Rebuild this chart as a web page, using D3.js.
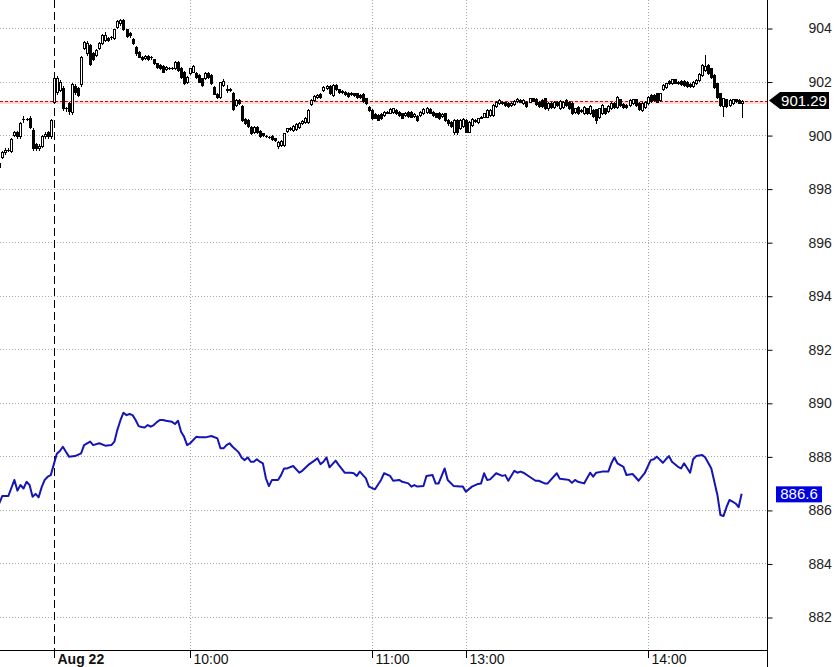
<!DOCTYPE html>
<html><head><meta charset="utf-8">
<script src="https://cdn.jsdelivr.net/npm/d3@7"></script>
<style>
html,body{margin:0;padding:0;background:#fff;}
svg{display:block;font-family:"Liberation Sans",Arial,sans-serif;}
</style></head><body>
<svg id="c" width="836" height="667"></svg>
<script>
// ---- data (1-minute bars; index 18 = Aug 22 09:15) ----
const opens = [
898.95,899.20,899.35,899.45,899.40,900.00,900.10,899.95,900.60,900.60,
900.65,900.20,899.65,899.50,899.60,899.95,900.10,899.95,901.25,901.60,
901.70,901.75,901.00,901.20,900.85,901.85,901.75,901.90,903.25,903.05,
903.35,903.05,902.99,903.24,903.43,903.55,903.62,903.65,903.62,904.05,
904.17,904.30,903.95,903.80,903.58,903.28,903.11,902.93,902.87,902.97,
902.90,902.83,902.68,902.60,902.58,902.45,902.50,902.52,902.50,902.74,
902.50,902.37,901.97,902.31,902.37,902.31,902.24,902.12,902.12,902.33,
902.24,901.80,901.55,901.43,901.87,901.72,901.74,901.58,901.12,901.31,
901.09,900.59,900.56,900.31,900.10,900.30,900.15,900.06,899.96,899.92,
899.96,899.88,899.60,899.63,899.63,900.16,900.22,900.19,900.22,900.29,
900.46,900.50,900.50,901.16,901.31,901.43,901.53,901.68,901.77,901.83,
901.50,901.87,901.71,901.66,901.62,901.58,901.52,901.56,901.56,901.50,
901.53,901.37,901.04,900.94,900.80,900.75,900.80,900.75,900.84,900.84,
900.87,900.94,900.87,900.81,900.75,900.87,900.87,900.72,900.72,900.75,
900.81,900.87,900.97,900.87,900.81,900.83,900.72,900.81,900.56,900.50,
900.10,900.56,900.25,900.35,900.56,900.13,900.38,900.52,900.50,900.65,
900.69,900.69,900.75,900.75,901.09,901.19,901.25,901.22,901.19,901.12,
901.16,901.28,901.31,901.19,901.25,901.25,901.37,901.34,901.25,901.31,
901.37,901.03,901.19,901.06,901.25,901.00,901.06,901.31,901.25,901.19,
900.87,901.06,900.90,900.81,901.00,900.81,900.94,900.96,900.68,900.81,
901.00,900.91,901.00,901.19,901.04,901.33,901.16,901.12,901.12,901.19,
901.33,901.21,900.94,901.06,901.19,901.50,901.50,901.56,901.31,901.71,
901.78,902.03,901.93,902.08,901.99,902.03,902.03,901.99,901.90,901.83,
901.93,902.06,902.24,902.43,902.62,902.49,902.24,901.93,901.56,901.09,
901.33,901.12,901.19,901.33,901.31,901.19];
const highs = [
899.05,899.40,899.50,899.50,899.90,900.15,900.15,900.50,900.70,900.65,
900.70,900.25,899.70,899.65,900.00,900.10,900.15,900.60,902.20,902.20,
902.05,901.85,901.05,901.25,901.95,901.90,901.80,902.95,903.50,903.50,
903.40,903.10,903.22,903.48,903.78,903.85,903.66,903.70,903.98,904.30,
904.32,904.32,903.98,903.84,903.62,903.32,903.15,902.97,903.00,903.00,
902.94,902.86,902.71,902.64,902.62,902.58,902.54,902.56,902.78,902.78,
902.53,902.40,902.21,902.52,902.61,902.34,902.27,902.15,902.34,902.36,
902.27,901.83,901.58,902.00,902.10,901.87,901.77,901.61,901.34,901.34,
901.12,900.62,900.59,900.34,900.33,900.33,900.18,900.09,900.00,899.96,
899.99,899.91,899.79,899.82,900.09,900.28,900.31,900.37,900.44,900.49,
900.57,900.66,900.97,901.34,901.49,901.53,901.56,901.83,901.88,901.86,
901.90,901.90,901.74,901.69,901.65,901.61,901.61,901.59,901.59,901.53,
901.56,901.40,901.07,900.97,900.83,900.78,900.83,900.90,900.90,901.00,
901.03,900.97,900.90,900.84,900.86,900.90,900.90,900.81,900.75,900.90,
901.00,901.06,901.00,900.90,900.84,900.86,900.81,900.84,900.59,900.53,
900.61,900.59,900.59,900.63,900.59,900.53,900.63,900.59,900.65,900.72,
900.84,900.97,900.97,901.15,901.28,901.34,901.28,901.25,901.22,901.22,
901.31,901.37,901.34,901.34,901.28,901.40,901.40,901.37,901.28,901.34,
901.40,901.23,901.22,901.28,901.28,901.31,901.28,901.34,901.28,901.22,
901.03,901.09,900.97,901.09,901.03,901.12,900.97,900.99,901.03,901.15,
901.03,901.12,901.22,901.22,901.46,901.36,901.19,901.15,901.34,901.36,
901.36,901.24,901.22,901.28,901.46,901.53,901.53,901.59,901.59,901.90,
901.96,902.06,902.11,902.11,902.02,902.06,902.06,902.02,901.93,902.02,
902.09,902.31,902.65,903.00,902.65,902.52,902.27,901.96,901.59,901.40,
901.36,901.34,901.36,901.36,901.34,901.32];
const lows = [
898.70,899.15,899.30,899.40,899.35,899.95,899.90,899.90,900.50,900.55,
900.25,899.45,899.45,899.45,899.55,899.90,899.90,899.90,901.20,901.55,
901.65,900.95,900.90,900.80,900.80,901.55,901.45,901.85,903.20,903.00,
902.60,902.80,902.95,903.20,903.40,903.50,903.50,903.60,903.58,904.00,
904.12,903.92,903.66,903.68,903.40,903.00,902.90,902.80,902.84,902.80,
902.86,902.65,902.52,902.47,902.34,902.42,902.46,902.48,902.47,902.40,
902.15,901.90,901.94,902.28,902.34,902.15,901.97,901.84,902.09,902.15,
901.90,901.52,901.40,901.40,901.84,901.60,901.65,900.93,901.09,901.16,
900.53,900.43,900.31,900.03,900.07,900.09,899.94,899.97,899.92,899.88,
899.81,899.79,899.52,899.60,899.60,900.13,900.19,900.16,900.19,900.26,
900.43,900.47,900.47,901.13,901.28,901.40,901.38,901.65,901.74,901.55,
901.47,901.68,901.59,901.57,901.50,901.43,901.49,901.47,901.38,901.38,
901.25,901.16,900.91,900.60,900.62,900.55,900.59,900.72,900.81,900.81,
900.84,900.78,900.72,900.62,900.72,900.68,900.66,900.69,900.53,900.72,
900.78,900.84,900.81,900.72,900.66,900.59,900.69,900.53,900.38,900.30,
900.05,900.03,900.22,900.32,900.10,900.10,900.35,900.49,900.47,900.62,
900.66,900.66,900.72,900.72,901.06,901.16,901.16,901.09,901.06,901.09,
901.13,901.25,901.22,901.16,901.06,901.22,901.26,901.13,901.06,901.06,
900.97,900.95,901.03,901.03,901.09,900.97,901.03,901.09,900.97,900.78,
900.84,900.78,900.87,900.78,900.78,900.78,900.68,900.46,900.65,900.78,
900.78,900.88,900.97,901.01,901.01,901.09,901.03,901.01,901.09,901.16,
901.09,900.93,900.91,901.03,901.16,901.25,901.28,901.22,901.28,901.68,
901.75,901.90,901.90,901.93,901.90,901.88,901.84,901.80,901.80,901.80,
901.90,902.03,902.21,902.40,902.28,902.15,901.75,901.40,901.09,900.71,
901.06,901.09,901.16,901.25,901.18,900.68];
const closes = [
898.80,899.35,899.45,899.45,899.85,900.10,899.95,900.45,900.60,900.60,
900.30,899.50,899.50,899.60,899.95,900.05,899.95,900.55,902.15,902.15,
902.00,901.00,901.00,900.90,901.90,901.60,901.50,902.93,903.47,903.43,
902.65,902.85,903.18,903.43,903.74,903.75,903.55,903.65,903.95,904.27,
904.30,903.95,903.70,903.72,903.43,903.05,902.93,902.83,902.97,902.83,
902.90,902.68,902.55,902.50,902.37,902.55,902.50,902.52,902.74,902.43,
902.18,901.93,902.18,902.49,902.58,902.18,902.00,901.87,902.31,902.18,
901.93,901.55,901.43,901.97,902.03,901.70,901.68,900.96,901.31,901.19,
900.56,900.46,900.34,900.06,900.30,900.12,899.97,900.00,899.96,899.92,
899.84,899.82,899.76,899.79,900.06,900.25,900.28,900.34,900.41,900.46,
900.54,900.63,900.94,901.31,901.46,901.50,901.41,901.80,901.85,901.58,
901.87,901.71,901.62,901.60,901.53,901.46,901.58,901.50,901.41,901.41,
901.28,901.19,900.94,900.63,900.65,900.58,900.62,900.87,900.87,900.97,
901.00,900.81,900.75,900.65,900.83,900.71,900.69,900.78,900.56,900.87,
900.97,901.03,900.84,900.75,900.69,900.62,900.78,900.56,900.44,900.33,
900.58,900.13,900.56,900.60,900.13,900.50,900.60,900.56,900.62,900.69,
900.81,900.94,900.94,901.12,901.25,901.31,901.19,901.12,901.09,901.19,
901.28,901.34,901.25,901.31,901.09,901.37,901.29,901.16,901.09,901.09,
901.00,901.20,901.06,901.25,901.12,901.28,901.25,901.12,901.00,900.81,
901.00,900.81,900.94,901.06,900.81,901.09,900.71,900.56,901.00,901.12,
900.81,901.09,901.19,901.04,901.43,901.12,901.06,901.04,901.31,901.33,
901.12,900.96,901.19,901.25,901.43,901.28,901.31,901.25,901.56,901.87,
901.93,901.93,902.08,901.96,901.93,901.91,901.87,901.83,901.83,901.99,
902.06,902.28,902.62,902.58,902.31,902.18,901.78,901.43,901.12,901.37,
901.09,901.31,901.33,901.28,901.21,901.29];

// blue series: vertices (bar index, value)
const spotMinute = [
0,1,3,5,6,7,8,9,10,11,12,13,14,15,16,17,18,19,20,21,
22,23,25,27,28,30,31,33,35,37,38,39,40,41,42,43,44,45,46,47,
48,49,50,51,52,53,54,55,57,58,59,60,61,62,63,65,66,68,70,72,
73,74,75,76,77,78,79,80,81,82,83,84,85,86,87,88,89,90,92,93,
94,95,97,99,100,102,104,105,106,107,108,109,111,112,114,116,117,118,119,121,
122,124,126,127,129,130,132,133,135,136,137,138,140,141,143,144,145,147,148,150,
152,153,154,156,158,159,160,161,162,164,166,167,168,170,171,172,173,175,177,178,
180,181,182,184,185,187,188,189,190,191,193,195,196,197,199,201,202,203,204,206,
207,209,210,211,213,215,216,217,219,220,221,222,224,225,226,228,229,230,232,233,
235,236,237,238,239,240,241,242,243,244,245];
const spotValue = [
886.24,886.52,886.52,887.12,886.72,886.93,886.80,887.05,886.93,886.49,886.60,886.47,886.85,887.12,887.24,887.30,887.70,888.10,888.20,888.36,
888.17,887.99,888.01,888.11,888.42,888.55,888.42,888.49,888.40,888.42,888.55,889.00,889.35,889.63,889.54,889.58,889.54,889.36,889.13,889.10,
889.08,889.17,889.11,889.17,889.28,889.36,889.36,889.33,889.29,889.21,889.33,888.92,888.73,888.42,888.49,888.73,888.71,888.71,888.76,888.67,
888.30,888.30,888.42,888.49,888.36,888.26,888.15,887.95,887.86,887.96,887.80,887.80,887.89,887.80,887.74,887.18,886.89,887.12,887.12,887.30,
887.55,887.55,887.64,887.39,887.46,887.68,887.84,887.93,887.71,887.80,887.96,887.59,887.84,887.68,887.39,887.39,887.37,887.27,887.43,887.18,
886.87,886.77,887.12,887.37,887.27,887.09,887.12,887.05,886.99,886.87,886.93,886.87,886.89,887.27,887.30,886.99,886.99,887.55,887.12,886.89,
886.87,886.87,886.68,886.87,886.97,886.99,887.37,887.12,887.14,887.37,887.27,887.30,887.09,887.46,887.39,887.43,887.39,887.24,887.09,887.09,
886.99,886.99,887.12,887.37,887.16,887.14,887.12,887.01,887.12,887.05,886.99,887.39,887.24,887.39,887.43,887.43,887.74,887.96,887.74,887.61,
887.30,887.34,887.22,887.09,887.37,887.86,887.89,887.99,887.76,887.89,888.01,887.80,887.61,887.55,887.74,887.39,887.89,888.01,888.05,887.96,
887.55,887.05,886.56,885.81,885.77,886.10,886.37,886.31,886.24,886.10,886.60];

const timeTickBars = [18, 63, 123, 154, 214];
const timeTickLabels = ["Aug 22", "10:00", "11:00", "13:00", "14:00"];
const priceTicks = [882, 884, 886, 888, 890, 892, 894, 896, 898, 900, 902, 904];
const lastPrice = 901.29;
const lastSpot = 886.6;

// ---- layout ----
const W = 836, H = 667, axisX = 767, axisY = 650;
const x = d3.scaleLinear().domain([18, 214]).range([53.8, 647.7]);
const y = d3.scaleLinear().domain([882, 904]).range([617, 28]);
const svg = d3.select("#c");
svg.append("rect").attr("width", W).attr("height", H).attr("fill", "#fff");

const px = v => Math.round(v) + 0.5;

// horizontal grid
svg.append("g").selectAll("line").data(priceTicks).join("line")
  .attr("x1", 0).attr("x2", axisX)
  .attr("y1", d => px(y(d))).attr("y2", d => px(y(d)))
  .attr("stroke", "#a9a9a9").attr("stroke-dasharray", "1,2");

// vertical grid (time ticks except day separator)
svg.append("g").selectAll("line").data(timeTickBars.slice(1)).join("line")
  .attr("x1", d => px(x(d))).attr("x2", d => px(x(d)))
  .attr("y1", 0).attr("y2", axisY)
  .attr("stroke", "#a9a9a9").attr("stroke-dasharray", "1,2");

// day separator
svg.append("line")
  .attr("x1", px(x(timeTickBars[0]))).attr("x2", px(x(timeTickBars[0])))
  .attr("y1", 0).attr("y2", axisY + 10)
  .attr("stroke", "#000").attr("stroke-dasharray", "8,4");

// last price dotted line (with soft tint like the reference)
const ly = px(y(lastPrice));
svg.append("line")
  .attr("x1", 0).attr("x2", axisX).attr("y1", ly + 1).attr("y2", ly + 1)
  .attr("stroke", "#ffd6d6").attr("stroke-width", 3);
svg.append("line")
  .attr("x1", 0).attr("x2", axisX).attr("y1", ly).attr("y2", ly)
  .attr("stroke", "#e00000").attr("stroke-dasharray", "3,2")
  .attr("shape-rendering", "crispEdges");

// candles
const bars = d3.range(opens.length).map(i => ({i, o: opens[i], h: highs[i], l: lows[i], c: closes[i]}));
const cg = svg.append("g").attr("shape-rendering", "crispEdges");
bars.forEach(b => {
  const cx = px(x(b.i));
  cg.append("line").attr("x1", cx).attr("x2", cx)
    .attr("y1", Math.round(y(b.h))).attr("y2", Math.round(y(b.l)) + 1)
    .attr("stroke", "#000");
  const top = px(y(Math.max(b.o, b.c))), bot = px(y(Math.min(b.o, b.c)));
  if (bot - top < 1) {
    cg.append("line").attr("x1", cx - 1.5).attr("x2", cx + 1.5)
      .attr("y1", top).attr("y2", top).attr("stroke", "#000");
  } else {
    cg.append("rect").attr("x", cx - 1).attr("y", top)
      .attr("width", 2).attr("height", bot - top)
      .attr("fill", b.c >= b.o ? "#fff" : "#000").attr("stroke", "#000");
  }
});

// blue line
const spot = spotMinute.map((m, k) => ({m, v: spotValue[k]}));
svg.append("path").datum(spot)
  .attr("d", d3.line().x(d => x(d.m)).y(d => y(d.v)))
  .attr("fill", "none").attr("stroke", "#1515b5").attr("stroke-width", 2)
  .attr("stroke-linejoin", "round");

// axes lines
svg.append("line").attr("x1", px(axisX)).attr("x2", px(axisX)).attr("y1", 0).attr("y2", H)
  .attr("stroke", "#000");
svg.append("line").attr("x1", 0).attr("x2", axisX).attr("y1", px(axisY)).attr("y2", px(axisY))
  .attr("stroke", "#000");

// right axis
const ya = svg.append("g").attr("transform", `translate(${px(axisX)},0.5)`)
  .call(d3.axisRight(y).tickValues(priceTicks).tickFormat(d3.format("d")).tickSize(5).tickPadding(36));
ya.select(".domain").remove();
ya.selectAll(".tick line").attr("stroke", "#000");
ya.selectAll(".tick text").attr("font-size", 14).attr("fill", "#222")
  .attr("font-family", "'Liberation Sans', Arial, sans-serif");

// bottom time labels
const tg = svg.append("g");
timeTickBars.forEach((b, k) => {
  const tx = px(x(b));
  tg.append("line").attr("x1", tx).attr("x2", tx).attr("y1", axisY).attr("y2", axisY + 8).attr("stroke", "#000");
  tg.append("text").attr("x", tx + 3).attr("y", 664)
    .attr("font-size", 14).attr("fill", "#111")
    .attr("font-weight", k === 0 ? "bold" : "normal")
    .text(timeTickLabels[k]);
});

// last price tag
const yp = y(lastPrice);
svg.append("path")
  .attr("d", `M${axisX + 2},${yp} L${axisX + 13},${yp - 8.5} L${axisX + 62},${yp - 8.5} L${axisX + 62},${yp + 8.5} L${axisX + 13},${yp + 8.5} Z`)
  .attr("fill", "#000");
svg.append("text").attr("x", axisX + 37).attr("y", yp + 5.5).attr("text-anchor", "middle")
  .attr("font-size", 15).attr("fill", "#fff").text(lastPrice.toFixed(2));

// spot tag
const ys = y(lastSpot);
svg.append("rect").attr("x", axisX + 9).attr("y", ys - 7.5).attr("width", 46).attr("height", 16)
  .attr("fill", "#0000e0");
svg.append("text").attr("x", axisX + 32).attr("y", ys + 5.5).attr("text-anchor", "middle")
  .attr("font-size", 15).attr("fill", "#fff").text(lastSpot.toFixed(1));
</script>
</body></html>
